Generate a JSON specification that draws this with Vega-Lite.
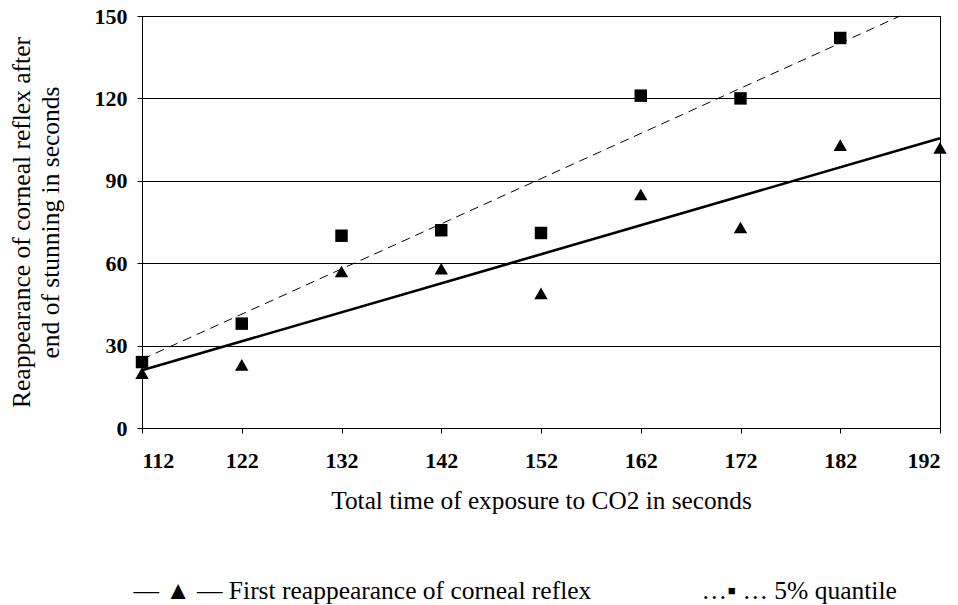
{
  "$schema": "https://vega.github.io/schema/vega-lite/v6.json",
  "width": 798,
  "height": 412,
  "autosize": "none",
  "padding": {"left": 142, "top": 16, "right": 18, "bottom": 177},
  "background": "white",
  "config": {
    "font": "Liberation Serif",
    "view": {"stroke": "black", "strokeWidth": 1},
    "axis": {"domainColor": "black", "tickColor": "black", "labelColor": "black", "titleColor": "black", "labelFont": "Liberation Serif", "titleFont": "Liberation Serif"}
  },
  "datasets": {
    "pts": [
      {"time": 112, "value": 20, "series": "First reappearance of corneal reflex"},
      {"time": 122, "value": 23, "series": "First reappearance of corneal reflex"},
      {"time": 132, "value": 57, "series": "First reappearance of corneal reflex"},
      {"time": 142, "value": 58, "series": "First reappearance of corneal reflex"},
      {"time": 152, "value": 49, "series": "First reappearance of corneal reflex"},
      {"time": 162, "value": 85, "series": "First reappearance of corneal reflex"},
      {"time": 172, "value": 73, "series": "First reappearance of corneal reflex"},
      {"time": 182, "value": 103, "series": "First reappearance of corneal reflex"},
      {"time": 192, "value": 102, "series": "First reappearance of corneal reflex"},
      {"time": 112, "value": 24, "series": "5% quantile"},
      {"time": 122, "value": 38, "series": "5% quantile"},
      {"time": 132, "value": 70, "series": "5% quantile"},
      {"time": 142, "value": 72, "series": "5% quantile"},
      {"time": 152, "value": 71, "series": "5% quantile"},
      {"time": 162, "value": 121, "series": "5% quantile"},
      {"time": 172, "value": 120, "series": "5% quantile"},
      {"time": 182, "value": 142, "series": "5% quantile"}
    ],
    "fits": [
      {"time": 112, "value": 21, "fit": "first"},
      {"time": 192, "value": 105.5, "fit": "first"},
      {"time": 112, "value": 25, "fit": "quantile"},
      {"time": 188, "value": 150, "fit": "quantile"}
    ]
  },
  "layer": [
    {
      "data": {"name": "fits"},
      "transform": [{"filter": "datum.fit == 'first'"}],
      "mark": {"type": "line", "color": "black", "strokeWidth": 2.6},
      "encoding": {
        "x": {"field": "time", "type": "quantitative", "scale": {"domain": [112, 192], "nice": false, "zero": false}},
        "y": {"field": "value", "type": "quantitative", "scale": {"domain": [0, 150], "nice": false}}
      }
    },
    {
      "data": {"name": "fits"},
      "transform": [{"filter": "datum.fit == 'quantile'"}],
      "mark": {"type": "line", "color": "black", "strokeWidth": 1, "strokeDash": [9, 6]},
      "encoding": {
        "x": {"field": "time", "type": "quantitative"},
        "y": {"field": "value", "type": "quantitative"}
      }
    },
    {
      "data": {"name": "pts"},
      "transform": [{"filter": "datum.series == 'First reappearance of corneal reflex'"}],
      "mark": {"type": "point", "filled": true, "color": "black", "opacity": 1, "size": 180},
      "encoding": {
        "x": {
          "field": "time", "type": "quantitative",
          "axis": {"title": "Total time of exposure to CO2 in seconds", "values": [112, 122, 132, 142, 152, 162, 172, 182, 192], "grid": false, "tickSize": 5, "labelFontSize": 22, "labelFontWeight": "bold", "labelPadding": 17, "titleFontSize": 25.3, "titleFontWeight": "normal", "titlePadding": 17}
        },
        "y": {
          "field": "value", "type": "quantitative",
          "axis": {"title": ["Reappearance of corneal reflex after", "end of stunning in seconds"], "values": [0, 30, 60, 90, 120, 150], "grid": true, "gridColor": "black", "gridOpacity": 1, "gridWidth": 1, "tickSize": 5, "labelFontSize": 22, "labelFontWeight": "bold", "labelPadding": 10, "titleFontSize": 25.5, "titleFontWeight": "normal", "titlePadding": 31, "titleLineHeight": 29}
        },
        "shape": {
          "field": "series", "type": "nominal",
          "scale": {"domain": ["First reappearance of corneal reflex", "5% quantile"], "range": ["triangle-up", "square"]},
          "legend": {
            "title": null, "orient": "none", "direction": "horizontal", "columns": 2, "gridAlign": "none", "legendX": -34, "legendY": 562,
            "symbolSize": 1, "symbolOpacity": 0, "symbolStrokeWidth": 0, "labelOffset": 0, "padding": 0,
            "labelFontSize": 25.5, "labelFont": "Liberation Serif", "labelColor": "black", "labelLimit": 700,
            "columnPadding": 78,
            "labelExpr": "datum.label == '5% quantile' ? '…▪ … 5% quantile' : '— ▲ —  First reappearance of corneal reflex'"
          }
        }
      }
    },
    {
      "data": {"name": "pts"},
      "transform": [{"filter": "datum.series == '5% quantile'"}],
      "mark": {"type": "point", "filled": true, "color": "black", "opacity": 1, "size": 155},
      "encoding": {
        "x": {"field": "time", "type": "quantitative"},
        "y": {"field": "value", "type": "quantitative"},
        "shape": {"field": "series", "type": "nominal"}
      }
    }
  ]
}
